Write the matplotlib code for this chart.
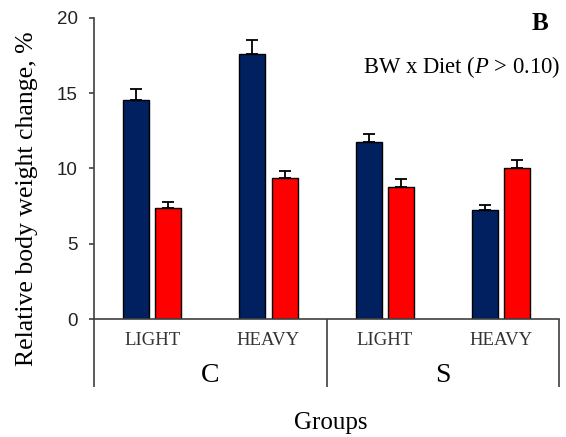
import matplotlib
matplotlib.use("Agg")
import numpy as np
import matplotlib.pyplot as plt
import matplotlib.transforms as mtransforms

plt.rcParams["mathtext.fontset"] = "custom"
plt.rcParams["mathtext.rm"] = "Liberation Serif"
plt.rcParams["mathtext.it"] = "Liberation Serif:italic"

# data
weights = ["LIGHT", "HEAVY", "LIGHT", "HEAVY"]
diets = ["C", "S"]
navy_vals = [14.55, 17.6, 11.75, 7.25]
navy_err = [0.75, 0.9, 0.57, 0.35]
red_vals = [7.35, 9.35, 8.78, 10.03]
red_err = [0.4, 0.5, 0.49, 0.5]

navy = "#002060"
red = "#FF0000"
line_col = "#404040"
serif = "Liberation Serif"
sans = "Liberation Sans"

fig = plt.figure(figsize=(5.66, 4.37), dpi=100)
ax = fig.add_axes([0.166, 0.270, 0.822, 0.689])

x = np.arange(len(weights))
w = 0.224
off = 0.139
zeros = np.zeros(len(x))

ax.bar(x - off, navy_vals, w, color=navy, edgecolor="black", linewidth=1.0, zorder=2)
ax.bar(x + off, red_vals, w, color=red, edgecolor="black", linewidth=1.0, zorder=2)
ax.errorbar(x - off, navy_vals, yerr=[zeros, navy_err], fmt="none", ecolor="black",
            elinewidth=1.3, capsize=4, capthick=1.3, zorder=3)
ax.errorbar(x + off, red_vals, yerr=[zeros, red_err], fmt="none", ecolor="black",
            elinewidth=1.3, capsize=4, capthick=1.3, zorder=3)

ax.set_xlim(-0.5, 3.5)
ax.set_ylim(0, 20)
ax.set_yticks([0, 5, 10, 15, 20])
ax.set_xticks([])
ax.tick_params(axis="y", direction="out", length=3.6, width=1.2, color=line_col,
               labelsize=13.5, pad=8)
for lab in ax.get_yticklabels():
    lab.set_fontfamily(sans)
    lab.set_color("#222222")
for s in ["top", "right"]:
    ax.spines[s].set_visible(False)
for s in ["left", "bottom"]:
    ax.spines[s].set_color(line_col)
    ax.spines[s].set_linewidth(1.2)

# category table below the axis
trans = mtransforms.blended_transform_factory(ax.transData, ax.transAxes)
bottom = -0.226
for xv in [-0.5, 1.5, 3.5]:
    ax.plot([xv, xv], [0, bottom], transform=trans, color=line_col, lw=1.2,
            clip_on=False, solid_capstyle="butt")
for xi, lab in zip(x, weights):
    ax.text(xi, -0.073, lab, transform=trans, ha="center", va="center",
            fontfamily=serif, fontsize=13.5, color="#333333")
for i, d in enumerate(diets):
    ax.text(0.5 + 2 * i, -0.189, d, transform=trans, ha="center", va="center",
            fontfamily=serif, fontsize=20, color="black")

fig.text(331 / 566, 1 - 423 / 437, "Groups", ha="center", va="center",
         fontfamily=serif, fontsize=18)
fig.text(27 / 566, 1 - 199 / 437, "Relative body weight change, %", rotation=90,
         ha="center", va="center", fontfamily=serif, fontsize=18.5)

fig.text(540 / 566, 1 - 23 / 437, "B", ha="center", va="center",
         fontfamily=serif, fontsize=18, fontweight="bold")
fig.text(560 / 566, 1 - 67 / 437, r"BW x Diet ($\mathit{P}$ > 0.10)", ha="right",
         va="center", fontfamily=serif, fontsize=16.3)

fig.savefig("out.png", dpi=100)
